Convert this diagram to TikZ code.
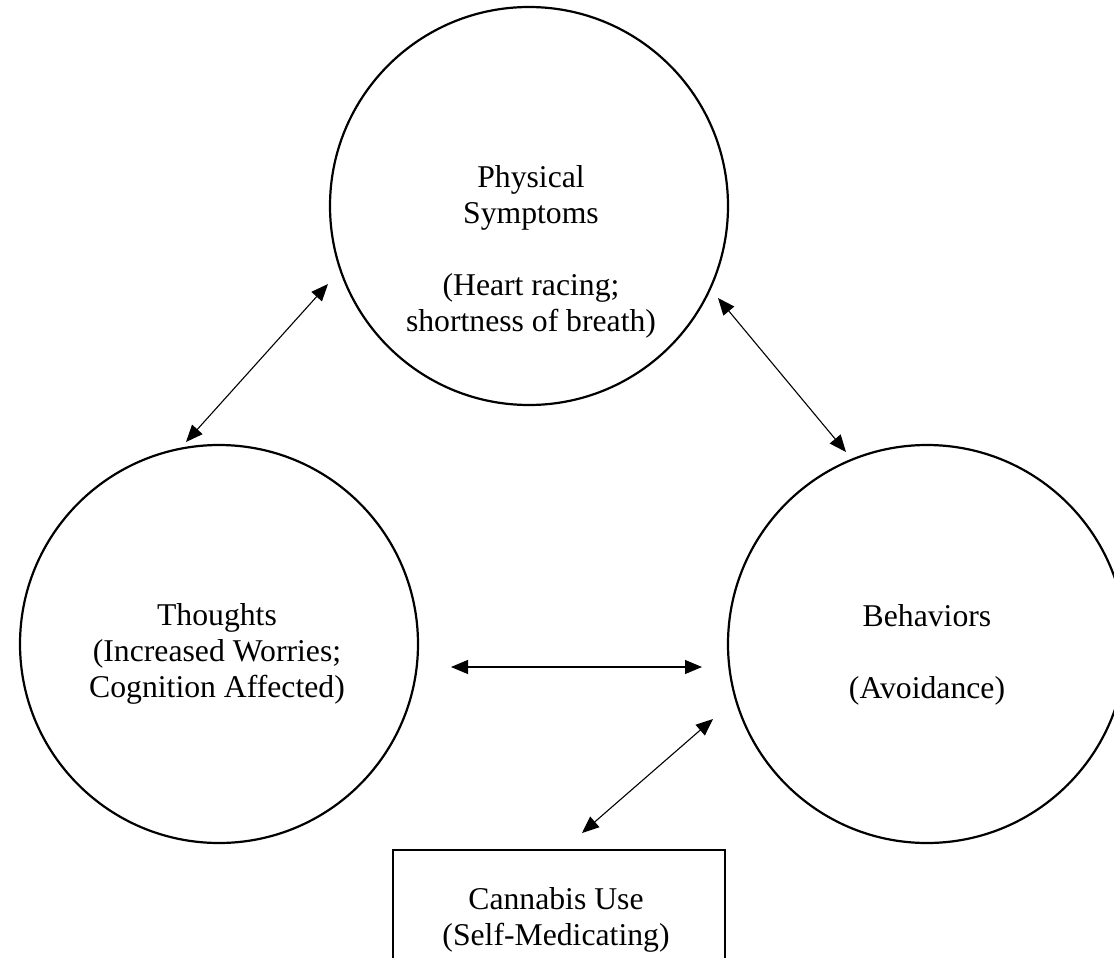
\documentclass[tikz,border=0pt]{standalone}
\usepackage{fontspec}
\setmainfont{Liberation Serif}
\usetikzlibrary{arrows.meta}
\begin{document}
\begin{tikzpicture}[x=0.5pt,y=-0.5pt,
  ring/.style={circle,draw,line width=1.1pt,minimum size=199pt,inner sep=0pt},
  card/.style={rectangle,draw,line width=1.1pt,minimum width=166pt,minimum height=70pt,inner sep=0pt},
  txt/.style={align=center,anchor=base,inner sep=0pt,font=\fontsize{15.85}{18}\selectfont},
  link/.style={line width=0.55pt,{Triangle[length=8.5pt,width=7pt]}-{Triangle[length=8.5pt,width=7pt]}}]
\useasboundingbox (0,0) rectangle (1114,958);

% the three circles and the box
\node[ring] (phys) at (529,206) {};
\node[ring] (thought) at (219,644) {};
\node[ring] (behav) at (927,644) {};
\node[card] (cannabis) at (559,920) {};

% their texts (placed by the baseline of the last line)
\node[txt] (physT) at (531,331) {Physical\\Symptoms\\ \\(Heart racing;\\shortness of breath)};
\node[txt] (thoughtT) at (217,697) {Thoughts\\(Increased Worries;\\Cognition Affected)};
\node[txt] (behavT) at (927,698) {Behaviors\\ \\(Avoidance)};
\node[txt] (cannabisT) at (556,945) {Cannabis Use\\(Self-Medicating)};

% ends of the two-way arrows
\coordinate (t-up) at (186,442);
\coordinate (p-left) at (328,284);
\coordinate (p-right) at (718,298);
\coordinate (b-up) at (846,452);
\coordinate (t-right) at (451,667);
\coordinate (b-left) at (702,667);
\coordinate (c-up) at (582,833);
\coordinate (b-low) at (713,719);

\draw[link] (t-up) -- (p-left);
\draw[link] (p-right) -- (b-up);
\draw[link] (t-right) -- (b-left);
\draw[link] (c-up) -- (b-low);
\end{tikzpicture}
\end{document}
